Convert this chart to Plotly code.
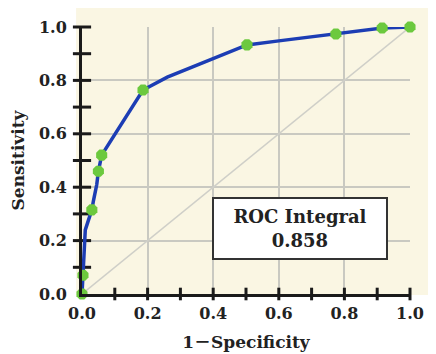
import plotly.graph_objects as go

# ROC curve vertices (1 - specificity, sensitivity)
curve_fpr = [0.0, 0.003, 0.005, 0.01, 0.018, 0.03, 0.035, 0.045, 0.05, 0.06, 0.186,
             0.26, 0.36, 0.46, 0.503, 0.6, 0.7, 0.774, 0.85, 0.915, 1.0]
curve_tpr = [0.0, 0.07, 0.15, 0.24, 0.27, 0.315, 0.35, 0.41, 0.46, 0.52, 0.764,
             0.812, 0.862, 0.914, 0.933, 0.948, 0.963, 0.974, 0.985, 0.996, 1.0]

# cut-off points (green markers)
point_fpr = [0.0, 0.003, 0.03, 0.05, 0.06, 0.186, 0.503, 0.774, 0.915, 1.0]
point_tpr = [0.0, 0.07, 0.315, 0.46, 0.52, 0.764, 0.933, 0.974, 0.996, 1.0]

major_ticks = [0.0, 0.2, 0.4, 0.6, 0.8, 1.0]
tick_labels = ["0.0", "0.2", "0.4", "0.6", "0.8", "1.0"]
minor_ticks = [0.1, 0.2, 0.3, 0.4, 0.5, 0.6, 0.7, 0.8, 0.9, 1.0]

auc_label = "ROC Integral"
auc_value = "0.858"

CREAM = "#faf6e3"
BLUE = "#1c3db4"
GREEN = "#6cc93e"
SERIF = "DejaVu Serif, Noto Sans CJK SC"

fig = go.Figure()

# reference diagonal
fig.add_trace(go.Scatter(x=[0, 1], y=[0, 1], mode="lines",
                         line=dict(color="#cfcfc8", width=1.5), hoverinfo="skip"))

# crossing tick marks
fig.add_trace(go.Scatter(x=[0] * len(minor_ticks), y=minor_ticks, mode="markers",
                         marker=dict(symbol="line-ew", size=13,
                                     line=dict(color="#1a1a1a", width=3)),
                         cliponaxis=False, hoverinfo="skip"))
fig.add_trace(go.Scatter(x=minor_ticks, y=[0] * len(minor_ticks), mode="markers",
                         marker=dict(symbol="line-ns", size=9,
                                     line=dict(color="#1a1a1a", width=3)),
                         cliponaxis=False, hoverinfo="skip"))

# ROC curve
fig.add_trace(go.Scatter(x=curve_fpr, y=curve_tpr, mode="lines",
                         line=dict(color=BLUE, width=3.5), cliponaxis=False))
fig.add_trace(go.Scatter(x=point_fpr, y=point_tpr, mode="markers",
                         marker=dict(symbol="octagon", size=12, color=GREEN,
                                     line=dict(width=0)),
                         cliponaxis=False))

# extended cream background
fig.add_shape(type="rect", xref="paper", yref="paper",
              x0=-0.018, x1=1.073, y0=-0.004, y1=1.071,
              fillcolor=CREAM, line=dict(width=0), layer="below")

fig.add_annotation(x=0.665, y=0.245, xref="x", yref="y",
                   text=f"<b>{auc_label}</b><br><b>{auc_value}</b>",
                   showarrow=False, bgcolor="white", bordercolor="#333333",
                   borderwidth=2, width=170, height=57,
                   font=dict(family=SERIF, size=18, color="#222222"))

axis_common = dict(range=[0, 1], tickvals=major_ticks, ticktext=tick_labels,
                   showgrid=True, gridcolor="#c9c9c1", gridwidth=2,
                   zeroline=False, showline=True, linecolor="#1a1a1a", linewidth=3,
                   ticks="", tickfont=dict(family=SERIF, size=16, color="#222222",
                                           weight="bold"),
                   fixedrange=True, automargin=False)

fig.update_xaxes(**axis_common, ticklabelstandoff=3,
                 title=dict(text="<b>1－Specificity</b>", standoff=14,
                            font=dict(family=SERIF, size=17, color="#222222")))
fig.update_yaxes(**axis_common, ticklabelstandoff=9,
                 title=dict(text="<b>Sensitivity</b>",
                            font=dict(family=SERIF, size=17, color="#222222")))

# the page body adds an 8px offset, so the figure is sized to fit the window
fig.update_layout(width=428, height=346,
                  margin=dict(l=74, r=26, t=19, b=60),
                  paper_bgcolor="white", plot_bgcolor=CREAM,
                  showlegend=False)

fig.write_html("out.html")
